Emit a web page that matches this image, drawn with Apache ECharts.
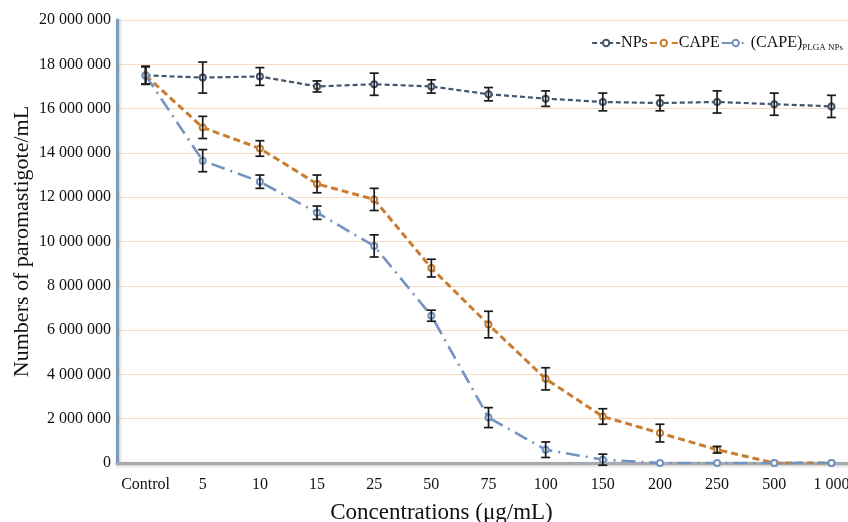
<!DOCTYPE html>
<html>
<head>
<meta charset="utf-8">
<script src="https://cdn.jsdelivr.net/npm/echarts@6/dist/echarts.min.js"></script>
<style>
  html, body { margin: 0; padding: 0; background: #fff; }
  #chart { width: 848px; height: 522px; }
</style>
</head>
<body>
<div id="chart"></div>
<script>
// concentrations (µg/mL)
var categories = ["Control", "5", "10", "15", "25", "50", "75", "100", "150", "200", "250", "500", "1 000"];

// parasite counts per mL
var npsValues  = [17500000, 17400000, 17450000, 17000000, 17100000, 17000000, 16650000, 16450000, 16300000, 16250000, 16300000, 16200000, 16100000];
var npsErrors  = [400000, 700000, 400000, 250000, 500000, 300000, 300000, 350000, 400000, 350000, 500000, 500000, 500000];

var capeValues = [17500000, 15150000, 14200000, 12600000, 11900000, 8800000, 6250000, 3800000, 2100000, 1350000, 600000, 0, 0];
var capeErrors = [400000, 500000, 350000, 400000, 500000, 400000, 600000, 500000, 350000, 400000, 150000, 0, 0];

var plgaValues = [17500000, 13650000, 12700000, 11300000, 9800000, 6650000, 2050000, 600000, 150000, 0, 0, 0, 0];
var plgaErrors = [400000, 500000, 300000, 300000, 500000, 250000, 450000, 350000, 250000, 0, 0, 0, 0];

var yTicks = [0, 2000000, 4000000, 6000000, 8000000, 10000000, 12000000, 14000000, 16000000, 18000000, 20000000];

var serif = "Liberation Serif";

function spaced(v) {
    return String(v).replace(/\B(?=(\d{3})+(?!\d))/g, " ");
}

// error bars drawn through the axes
function errorSeries(values, errors) {
    var data = values.map(function (v, i) {
        return [i, v - errors[i], v + errors[i]];
    });
    return {
        type: "custom",
        z: 5,
        silent: true,
        renderItem: function (params, api) {
            if (api.value(2) === api.value(1)) return null;
            var lo = api.coord([api.value(0), api.value(1)]);
            var hi = api.coord([api.value(0), api.value(2)]);
            var cap = 4.5;
            var st = { stroke: "#1a1a1a", lineWidth: 1.7 };
            return {
                type: "group",
                children: [
                    { type: "line", shape: { x1: lo[0], y1: lo[1], x2: hi[0], y2: hi[1] }, style: st },
                    { type: "line", shape: { x1: lo[0] - cap, y1: lo[1], x2: lo[0] + cap, y2: lo[1] }, style: st },
                    { type: "line", shape: { x1: hi[0] - cap, y1: hi[1], x2: hi[0] + cap, y2: hi[1] }, style: st }
                ]
            };
        },
        data: data
    };
}

function lineSeries(name, values, color, dash, width) {
    return {
        name: name,
        type: "line",
        data: values,
        z: 4,
        symbol: "emptyCircle",
        symbolSize: 6,
        lineStyle: { color: color, width: width, type: dash },
        itemStyle: { color: color, borderColor: color, borderWidth: 1.6 }
    };
}

var chart = echarts.init(document.getElementById("chart"));
chart.setOption({
    animation: false,
    textStyle: { fontFamily: serif },
    legend: {
        top: 30,
        right: 0,
        itemGap: 1,
        itemWidth: 28,
        itemHeight: 8,
        data: ["NPs", "CAPE", "(CAPE)PLGA NPs"],
        textStyle: {
            fontFamily: serif,
            fontSize: 16,
            color: "#111",
            padding: [0, 0, 0, -4],
            rich: { sub: { fontFamily: serif, fontSize: 9, color: "#111", padding: [10, 0, 0, 0] } }
        },
        formatter: function (n) {
            return n === "(CAPE)PLGA NPs" ? "(CAPE){sub|PLGA NPs}" : n;
        }
    },
    grid: { left: 117, top: 20, bottom: 59, width: 743, outerBoundsMode: "none", containLabel: false },
    xAxis: {
        type: "category",
        data: categories,
        boundaryGap: true,
        name: "Concentrations (μg/mL)",
        nameLocation: "middle",
        nameGap: 38,
        nameMoveOverlap: false,
        nameTextStyle: { fontFamily: serif, fontSize: 23, color: "#111", padding: [0, 94, 0, 0] },
        axisLine: { lineStyle: { color: "#a6a9ad", width: 3, shadowColor: "rgba(0,0,0,0.25)", shadowBlur: 3, shadowOffsetY: 1 } },
        axisTick: { show: false },
        axisLabel: { fontFamily: serif, fontSize: 16, color: "#111", margin: 14, interval: 0 }
    },
    yAxis: {
        type: "value",
        min: 0,
        max: 20000000,
        interval: 2000000,
        name: "Numbers of paromastigote/mL",
        nameLocation: "middle",
        nameGap: 84,
        nameMoveOverlap: false,
        nameTextStyle: { fontFamily: serif, fontSize: 22, color: "#111" },
        axisLine: { show: true, lineStyle: { color: "#7f9bb5", width: 3, shadowColor: "rgba(0,0,0,0.25)", shadowBlur: 3, shadowOffsetX: 1 } },
        axisTick: { show: false },
        axisLabel: {
            fontFamily: serif, fontSize: 16, color: "#111", margin: 6,
            formatter: function (v) { return yTicks.indexOf(v) >= 0 ? spaced(v) : ""; }
        },
        splitLine: { lineStyle: { color: "#f7dcc2", width: 1 } }
    },
    series: [
        lineSeries("NPs", npsValues, "#44546a", [5, 3], 2.2),
        lineSeries("CAPE", capeValues, "#c87d30", [7, 4], 3),
        lineSeries("(CAPE)PLGA NPs", plgaValues, "#7393c0", [14, 6, 2, 6], 2.6),
        errorSeries(npsValues, npsErrors),
        errorSeries(capeValues, capeErrors),
        errorSeries(plgaValues, plgaErrors)
    ]
});
window.addEventListener("resize", function () { chart.resize(); });
</script>
</body>
</html>
